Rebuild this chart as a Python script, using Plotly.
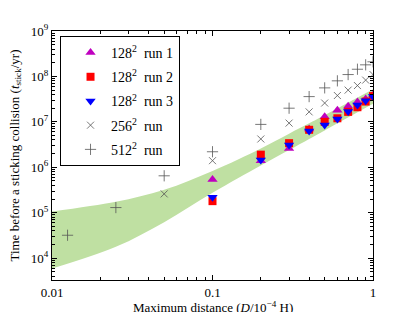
import plotly.graph_objects as go

# ---- data ----
d_128 = [0.1, 0.2, 0.3, 0.4, 0.5, 0.6, 0.7, 0.8, 0.9, 1.0]
t_128_run1 = [5.4e5, 1.4e6, 2.6e6, 7.0e6, 1.3e7, 1.8e7, 2.2e7, 2.75e7, 3.2e7, 3.9e7]
t_128_run2 = [1.8e5, 1.9e6, 3.4e6, 6.7e6, 1.0e7, 1.2e7, 1.66e7, 2.1e7, 2.8e7, 3.7e7]
t_128_run3 = [2.2e5, 1.45e6, 3.1e6, 6.3e6, 8.5e6, 1.15e7, 1.7e7, 2.35e7, 2.9e7, 3.6e7]

d_256 = [0.05, 0.1, 0.2, 0.3, 0.4, 0.5, 0.6, 0.7, 0.8, 0.9, 1.0]
t_256 = [2.6e5, 1.4e6, 4.2e6, 9.4e6, 1.66e7, 2.6e7, 3.8e7, 5.0e7, 6.3e7, 8.3e7, 1.1e8]

d_512 = [0.0125, 0.025, 0.05, 0.1, 0.2, 0.3, 0.4, 0.5, 0.6, 0.7, 0.8, 0.9, 1.0]
t_512 = [3.2e4, 1.3e5, 6.5e5, 2.2e6, 8.8e6, 2.0e7, 3.6e7, 5.6e7, 8.0e7, 1.1e8, 1.44e8, 1.8e8, 2.1e8]

band_d = [0.01, 0.025, 0.05, 0.1, 0.2, 0.3, 0.4, 0.5, 1.0]
band_upper = [1.07e5, 1.74e5, 3.2e5, 8.3e5, 2.6e6, 5.5e6, 9.3e6, 1.4e7, 5.2e7]
band_lower = [5.9e3, 1.78e4, 6.2e4, 2.75e5, 1.1e6, 2.4e6, 4.2e6, 6.5e6, 2.5e7]

x_tickvals = [0.01, 0.1, 1]
x_ticktext = ["0.01", "0.1", "1"]
y_tickvals = [1e4, 1e5, 1e6, 1e7, 1e8, 1e9]
y_ticktext = ["10<sup>4</sup>", "10<sup>5</sup>", "10<sup>6</sup>", "10<sup>7</sup>",
              "10<sup>8</sup>", "10<sup>9</sup>"]

x_title = "Maximum distance (<i>D</i>/10<sup>−4</sup> H)"
y_title = "Time before a sticking collision (<i>t</i><sub>stick</sub>/yr)"

FONT = "Liberation Serif"

fig = go.Figure()

fig.add_trace(go.Scatter(x=band_d, y=band_lower, mode="lines", line=dict(width=0, shape="spline"),
                         showlegend=False, hoverinfo="skip"))
fig.add_trace(go.Scatter(x=band_d, y=band_upper, mode="lines", line=dict(width=0, shape="spline"),
                         fill="tonexty", fillcolor="#bfe0a2", showlegend=False, hoverinfo="skip"))

fig.add_trace(go.Scatter(x=d_128, y=t_128_run1, mode="markers", name="128<sup>2</sup>  run 1",
                         legendgroup="a",
                         marker=dict(symbol="triangle-up", size=9, color="#bf00bf")))
fig.add_trace(go.Scatter(x=d_128, y=t_128_run2, mode="markers", name="128<sup>2</sup>  run 2",
                         legendgroup="b",
                         marker=dict(symbol="square", size=8, color="#ff0000")))
fig.add_trace(go.Scatter(x=d_128, y=t_128_run3, mode="markers", name="128<sup>2</sup>  run 3",
                         legendgroup="c",
                         marker=dict(symbol="triangle-down", size=9, color="#0000ff")))
fig.add_trace(go.Scatter(x=d_256, y=t_256, mode="markers", name="256<sup>2</sup>  run",
                         legendgroup="d",
                         marker=dict(symbol="x-thin", size=7, line=dict(width=0.8, color="#555555"))))
fig.add_trace(go.Scatter(x=d_512, y=t_512, mode="markers", name="512<sup>2</sup>  run",
                         legendgroup="e",
                         marker=dict(symbol="cross-thin", size=8, line=dict(width=0.8, color="#555555"))))

minor_x = [m * 10 ** e for e in (-2, -1) for m in range(2, 10)]
minor_y = [m * 10 ** e for e in range(3, 9) for m in range(1, 10) if m * 10 ** e >= 3.3e3]

axis_common = dict(showline=True, linecolor="black", linewidth=1, mirror="allticks",
                   ticks="inside", ticklen=5, tickcolor="black", showgrid=False, zeroline=False,
                   automargin=False,
                   tickfont=dict(family=FONT, size=13, color="black"))

fig.update_xaxes(type="log", range=[-2, 0], tickmode="array", tickvals=x_tickvals, ticktext=x_ticktext,
                 minor=dict(tickmode="array", tickvals=minor_x, ticks="inside", ticklen=3,
                            tickcolor="black", showgrid=False),
                 **axis_common)
fig.update_yaxes(type="log", range=[3.52, 9], tickmode="array", tickvals=y_tickvals, ticktext=y_ticktext,
                 minor=dict(tickmode="array", tickvals=minor_y, ticks="inside", ticklen=3,
                            tickcolor="black", showgrid=False),
                 **axis_common)

fig.add_annotation(text=x_title, xref="paper", yref="paper", x=0.5, y=-0.11,
                   xanchor="center", yanchor="middle", showarrow=False,
                   font=dict(family=FONT, size=13, color="black"))
fig.add_annotation(text=y_title, xref="paper", yref="paper", x=-0.115, y=0.5, textangle=-90,
                   xanchor="center", yanchor="middle", showarrow=False,
                   font=dict(family=FONT, size=13, color="black"))

fig.update_layout(
    width=415, height=312,
    margin=dict(l=44, r=50, t=23, b=40),
    paper_bgcolor="white", plot_bgcolor="white",
    font=dict(family=FONT, size=13, color="black"),
    legend=dict(x=0.025, y=0.98, xanchor="left", yanchor="top",
                bordercolor="black", borderwidth=1, bgcolor="white",
                font=dict(family=FONT, size=14, color="black"),
                tracegroupgap=3, itemwidth=31, indentation=9),
)

fig.write_html("out.html")
